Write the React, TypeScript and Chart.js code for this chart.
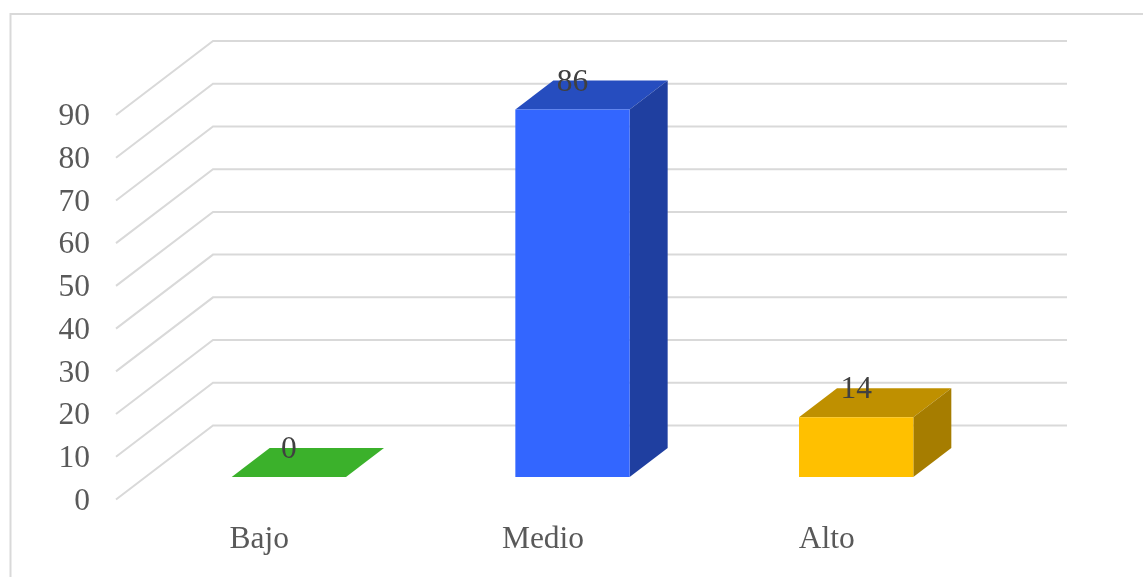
import React, { useEffect, useRef } from "react";
import { Chart, registerables } from "chart.js";

Chart.register(...registerables);

const categories = ["Bajo", "Medio", "Alto"];
const values = [0, 86, 14];
const frontColors = ["#3cb02c", "#3366ff", "#ffc000"];
const topColors = ["#3bb12b", "#264dbf", "#bf9000"];
const sideColors = ["#2c8420", "#1f3fa0", "#a67d00"];

const FONT = '"Liberation Serif", serif';
const FONT_SIZE = 31.5;
const WALL = { dx: 97, dy: -74, rightDx: 100 };
const BAR_SHIFT = { dx: 31, dy: -22.5 };
const BAR_DEPTH = { dx: 38, dy: -29 };
const GRID = "#d9d9d9";

const poly = (ctx: CanvasRenderingContext2D, pts: number[][], fill: string) => {
  ctx.beginPath();
  pts.forEach(([x, y], i) => (i ? ctx.lineTo(x, y) : ctx.moveTo(x, y)));
  ctx.closePath();
  ctx.fillStyle = fill;
  ctx.fill();
};

const box3d = {
  id: "box3d",
  beforeDraw(chart: any) {
    const { ctx, width, height } = chart;
    ctx.save();
    ctx.strokeStyle = GRID;
    ctx.lineWidth = 2;
    ctx.beginPath();
    ctx.moveTo(10.5, height);
    ctx.lineTo(10.5, 14);
    ctx.lineTo(width, 14);
    ctx.stroke();
    const { y, x } = chart.scales;
    for (const t of y.ticks) {
      const py = y.getPixelForValue(t.value);
      ctx.beginPath();
      ctx.moveTo(x.left, py);
      ctx.lineTo(x.left + WALL.dx, py + WALL.dy);
      ctx.lineTo(x.right + WALL.rightDx, py + WALL.dy);
      ctx.stroke();
    }
    ctx.restore();
  },
  beforeDatasetDraw(chart: any, args: any) {
    const { ctx } = chart;
    ctx.save();
    ctx.translate(BAR_SHIFT.dx, BAR_SHIFT.dy);
    args.meta.data.forEach((b: any, i: number) => {
      const l = b.x - b.width / 2;
      const r = b.x + b.width / 2;
      const { dx, dy } = BAR_DEPTH;
      poly(ctx, [[l, b.y], [l + dx, b.y + dy], [r + dx, b.y + dy], [r, b.y]], topColors[i]);
      if (b.base - b.y > 0.5) {
        poly(ctx, [[r, b.y], [r + dx, b.y + dy], [r + dx, b.base + dy], [r, b.base]], sideColors[i]);
      }
    });
  },
  afterDatasetDraw(chart: any) {
    chart.ctx.restore();
  },
  afterDatasetsDraw(chart: any) {
    const { ctx } = chart;
    const meta = chart.getDatasetMeta(0);
    ctx.save();
    ctx.font = `${FONT_SIZE}px ${FONT}`;
    ctx.fillStyle = "#404040";
    ctx.textAlign = "center";
    ctx.textBaseline = "middle";
    meta.data.forEach((b: any, i: number) => {
      ctx.fillText(String(values[i]), b.x + BAR_SHIFT.dx, b.y + BAR_SHIFT.dy - 27);
    });
    ctx.restore();
  },
};

export default function App() {
  const ref = useRef<HTMLCanvasElement>(null);
  useEffect(() => {
    const chart = new Chart(ref.current!, {
      type: "bar",
      data: {
        labels: categories,
        datasets: [
          {
            data: values,
            backgroundColor: frontColors,
            borderWidth: 0,
            barPercentage: 0.403,
            categoryPercentage: 1,
            clip: false,
          } as any,
        ],
      },
      options: {
        animation: false,
        responsive: false,
        layout: { padding: { left: 0, right: 176, top: 115, bottom: 0 } },
        plugins: { legend: { display: false }, tooltip: { enabled: false } },
        scales: {
          x: {
            border: { display: false },
            grid: { display: false, drawTicks: false },
            afterFit: (s: any) => {
              s.height = 77.5;
            },
            ticks: {
              color: "#595959",
              font: { family: FONT, size: FONT_SIZE },
              padding: 21,
              labelOffset: 1.5,
              maxRotation: 0,
              autoSkip: false,
            },
          },
          y: {
            min: 0,
            max: 90,
            border: { display: false },
            grid: { display: false, drawTicks: false },
            afterFit: (s: any) => {
              s.width = 116;
            },
            ticks: {
              stepSize: 10,
              color: "#595959",
              font: { family: FONT, size: FONT_SIZE },
              padding: 26,
              labelOffset: 2,
            },
          },
        },
      },
      plugins: [box3d],
    });
    return () => chart.destroy();
  }, []);
  return (
    <div style={{ position: "fixed", left: 0, top: 0, width: 1143, height: 577, background: "#fff" }}>
      <canvas ref={ref} width={1143} height={577} style={{ display: "block" }} />
    </div>
  );
}
